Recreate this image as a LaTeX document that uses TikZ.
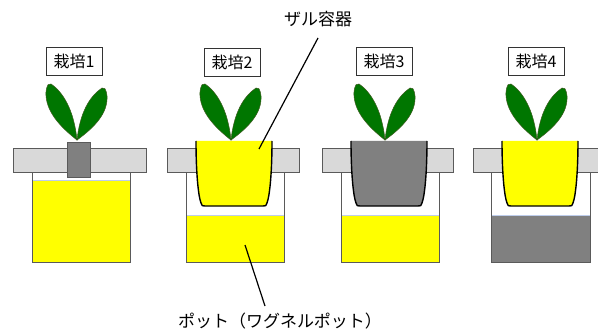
\documentclass[tikz,border=0pt]{standalone}
\usepackage{fontspec}
\setmainfont{Noto Sans CJK JP}
\begin{document}
\begin{tikzpicture}[x=1pt,y=-1pt,
  barbox/.style={fill=barfill,draw=edgegrey,line width=0.8pt},
  potwall/.style={draw=edgegrey,line width=0.7pt},
  tag/.style={draw=black!80,fill=white,line width=0.7pt,minimum width=56pt,minimum height=28pt,inner sep=0pt,font=\fontsize{16}{16}\selectfont},
  callout/.style={font=\fontsize{17}{17}\selectfont,inner sep=0pt},
  leader/.style={draw=black,line width=1.2pt},
  leaf/.style={fill=leafgreen,draw=leafedge,line width=0.5pt},
  cupline/.style={draw=black,line width=1.4pt,line join=round}]
\definecolor{barfill}{RGB}{217,217,217}
\definecolor{edgegrey}{RGB}{90,90,90}
\definecolor{potgrey}{RGB}{128,128,128}
\definecolor{leafgreen}{RGB}{0,118,0}
\definecolor{leafedge}{RGB}{60,90,30}
\definecolor{liqtop}{RGB}{190,205,235}
\definecolor{yel}{RGB}{255,255,0}

% canvas
\path[fill=white] (0,0) rectangle (598,329);
\useasboundingbox (0,0) rectangle (598,329);
\clip (0,0) rectangle (598,329);

% pot: #1 left x, #2 right x, #3 liquid top, #4 liquid colour
\newcommand\wagpot[4]{%
  \fill[#4] (#1,#3) rectangle (#2,262);
  \draw[liqtop,line width=0.8pt] (#1,#3) -- (#2,#3);
  \draw[potwall] (#1,172) -- (#1,262) -- (#2,262) -- (#2,172);}
% colander cup: #1 centre x, #2 fill colour
\newcommand\zarucup[2]{%
  \fill[#2] (#1-38,141) .. controls (#1-38,170) and (#1-36,195) .. (#1-33,203)
     .. controls (#1-32,206) .. (#1-29,206) -- (#1+29,206)
     .. controls (#1+32,206) .. (#1+33,203)
     .. controls (#1+36,195) and (#1+38,170) .. (#1+38,141) -- cycle;
  \draw[cupline] (#1-38,141) .. controls (#1-38,170) and (#1-36,195) .. (#1-33,203)
     .. controls (#1-32,206) .. (#1-29,206) -- (#1+29,206)
     .. controls (#1+32,206) .. (#1+33,203)
     .. controls (#1+36,195) and (#1+38,170) .. (#1+38,141);}
% seedling: #1 base x
\newcommand\seedling[1]{%
  \draw[leaf] (#1,140) .. controls (#1-18,126) and (#1-32,110) .. (#1-31,92)
     .. controls (#1-30,84) and (#1-28,83) .. (#1-26,84)
     .. controls (#1-14,92) and (#1-3,110) .. (#1,140) -- cycle;
  \draw[leaf] (#1,140) .. controls (#1+18,127) and (#1+31,113) .. (#1+30,96)
     .. controls (#1+29,88) and (#1+27,87) .. (#1+25,88)
     .. controls (#1+13,96) and (#1+3,112) .. (#1,140) -- cycle;}

% pots with nutrient solution
\wagpot{32}{130}{180}{yel}
\wagpot{186}{284}{215}{yel}
\wagpot{341}{439}{215}{yel}
\wagpot{491}{590}{215}{potgrey}

% lids
\draw[barbox] (13,148) rectangle (146,172);
\draw[barbox] (167,148) rectangle (299,172);
\draw[barbox] (322,148) rectangle (453,172);
\draw[barbox] (473,148) rectangle (606,172);

% plug and colanders
\draw[fill=potgrey,draw=edgegrey,line width=0.8pt] (67,142) rectangle (90,177);
\zarucup{234}{yel}
\zarucup{389}{potgrey}
\zarucup{540}{yel}

% seedlings
\seedling{77}
\seedling{231}
\seedling{385}
\seedling{537}

% labels
\node[tag] (t1) at (74,61) {栽培1};
\node[tag] (t2) at (232,62) {栽培2};
\node[tag] (t3) at (384,61) {栽培3};
\node[tag] (t4) at (536,61) {栽培4};

\node[callout] (zaru) at (318,19) {ザル容器};
\node[callout] (pot) at (280,321) {ポット（ワグネルポット）};

\coordinate (zarutip) at (259,149);
\coordinate (pottip) at (245,245);
\coordinate (zarutop) at (318,38);
\coordinate (potend) at (265,306);
\draw[leader] (zarutop) -- (zarutip);
\draw[leader] (pottip) -- (potend);
\end{tikzpicture}
\end{document}
